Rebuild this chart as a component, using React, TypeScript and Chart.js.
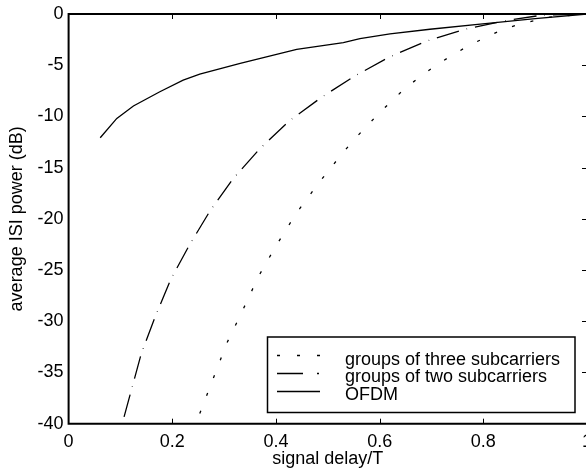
import React, { useEffect, useRef } from "react";
import { Chart, registerables } from "chart.js";

Chart.register(...registerables);

// ---- data ----
const seriesLabels = [
  "groups of three subcarriers",
  "groups of two subcarriers",
  "OFDM",
];

const threeX = [0.253, 0.279, 0.305, 0.336, 0.366, 0.401, 0.44, 0.482, 0.527, 0.551, 0.601, 0.651, 0.709, 0.771, 0.835, 0.869, 0.929, 1.0];
const threeY = [-39.0, -35.58, -32.16, -28.91, -25.65, -22.56, -19.4, -16.53, -13.67, -12.24, -9.57, -7.16, -4.98, -3.1, -1.56, -1.0, -0.3, 0];

const twoX = [0.107, 0.14, 0.167, 0.197, 0.233, 0.273, 0.318, 0.369, 0.426, 0.488, 0.552, 0.62, 0.691, 0.765, 0.839, 0.915, 1.0];
const twoY = [-39.33, -33.2, -29.56, -25.91, -22.56, -19.21, -16.04, -13.15, -10.42, -8.13, -6.05, -4.17, -2.64, -1.49, -0.68, -0.1, 0];

const ofdmX = [0.061, 0.093, 0.125, 0.176, 0.221, 0.253, 0.331, 0.44, 0.53, 0.562, 0.62, 0.697, 0.794, 0.9, 1.0];
const ofdmY = [-12.08, -10.19, -8.98, -7.59, -6.45, -5.86, -4.81, -3.45, -2.8, -2.4, -1.95, -1.49, -0.98, -0.45, 0];

const xMin = 0;
const xMax = 1;
const xStep = 0.2;
const yMin = -40;
const yMax = 0;
const yStep = 5;

const xTitle = "signal delay/T";
const yTitle = "average ISI power (dB)";

const FONT = "'Liberation Sans', Arial, sans-serif";

function zip(xs: number[], ys: number[]) {
  return xs.map((x, i) => ({ x, y: ys[i] }));
}

const framePlugin = {
  id: "matlabFrame",
  afterDraw(chart: any) {
    const { ctx, chartArea } = chart;
    const { left, right, top, bottom } = chartArea;
    const xs = chart.scales.x;
    const ys = chart.scales.y;
    ctx.save();
    ctx.strokeStyle = "#000";
    ctx.lineWidth = 1;
    const tl = 5;
    xs.ticks.forEach((t: any) => {
      if (t.value <= xMin || t.value >= xMax) return;
      const px = Math.round(xs.getPixelForValue(t.value)) + 0.5;
      ctx.beginPath();
      ctx.moveTo(px, bottom);
      ctx.lineTo(px, bottom - tl);
      ctx.moveTo(px, top);
      ctx.lineTo(px, top + tl);
      ctx.stroke();
    });
    ys.ticks.forEach((t: any) => {
      if (t.value <= yMin || t.value >= yMax) return;
      const py = Math.round(ys.getPixelForValue(t.value)) + 0.5;
      ctx.beginPath();
      ctx.moveTo(right, py);
      ctx.lineTo(right - tl, py);
      ctx.stroke();
    });
    ctx.lineWidth = 2;
    ctx.beginPath();
    ctx.moveTo(left, top);
    ctx.lineTo(right, top);
    ctx.lineTo(right, bottom);
    ctx.lineTo(left, bottom);
    ctx.closePath();
    ctx.stroke();

    // legend
    const bx = 267.5;
    const by = 337;
    const bw = 307.5;
    const bh = 75.5;
    ctx.fillStyle = "#fff";
    ctx.fillRect(bx, by, bw, bh);
    ctx.lineWidth = 1.5;
    ctx.strokeRect(bx, by, bw, bh);
    const sampleY = [355.5, 373.5, 391.5];
    const textY = [360, 377.5, 395];
    const legendDash = [[3, 17], [26, 14, 2, 20], []];
    ctx.font = `18px ${FONT}`;
    ctx.textBaseline = "middle";
    ctx.textAlign = "left";
    chart.data.datasets.forEach((ds: any, i: number) => {
      ctx.save();
      ctx.lineWidth = ds.borderWidth;
      ctx.setLineDash(legendDash[i]);
      ctx.beginPath();
      ctx.moveTo(277, sampleY[i]);
      ctx.lineTo(320, sampleY[i]);
      ctx.stroke();
      ctx.restore();
      ctx.fillStyle = "#000";
      ctx.fillText(ds.label, 345, textY[i]);
    });
    ctx.restore();
  },
};

export default function App() {
  const ref = useRef<HTMLCanvasElement | null>(null);
  useEffect(() => {
    if (!ref.current) return;
    Chart.defaults.font.family = FONT;
    const chart = new Chart(ref.current, {
      type: "line",
      data: {
        datasets: [
          {
            label: seriesLabels[0],
            data: zip(threeX, threeY),
            borderColor: "#000",
            borderWidth: 1.3,
            borderDash: [3, 16],
            pointRadius: 0,
            tension: 0,
            fill: false,
          },
          {
            label: seriesLabels[1],
            data: zip(twoX, twoY),
            borderColor: "#000",
            borderWidth: 1.3,
            borderDash: [23, 8, 0.6, 8],
            pointRadius: 0,
            tension: 0,
            fill: false,
          },
          {
            label: seriesLabels[2],
            data: zip(ofdmX, ofdmY),
            borderColor: "#000",
            borderWidth: 1.3,
            pointRadius: 0,
            tension: 0,
            fill: false,
          },
        ],
      },
      options: {
        animation: false,
        responsive: false,
        devicePixelRatio: 1,
        layout: { padding: { left: 0, right: 13, top: 14, bottom: 0 } },
        plugins: {
          legend: { display: false },
          tooltip: { enabled: false },
        },
        scales: {
          x: {
            type: "linear",
            min: xMin,
            max: xMax,
            grid: { display: false, drawTicks: false },
            border: { display: false },
            ticks: {
              stepSize: xStep,
              color: "#000",
              font: { size: 18, family: FONT },
              padding: 8,
              maxRotation: 0,
              callback: (v: any) => String(parseFloat(Number(v).toFixed(2))),
            },
            title: {
              display: true,
              text: xTitle,
              color: "#000",
              font: { size: 18, family: FONT },
              padding: { top: 0, bottom: 2 },
            },
            afterFit: (s: any) => {
              s.height = 48.3;
              s.paddingLeft = 0;
              s.paddingRight = 0;
            },
          },
          y: {
            type: "linear",
            min: yMin,
            max: yMax,
            grid: { display: false, drawTicks: false },
            border: { display: false },
            ticks: {
              stepSize: yStep,
              color: "#000",
              font: { size: 18, family: FONT },
              padding: 5,
            },
            title: {
              display: true,
              text: yTitle,
              color: "#000",
              font: { size: 18, family: FONT },
              padding: { top: 6, bottom: 0 },
            },
            afterFit: (s: any) => {
              s.width = 68.6;
              s.paddingTop = 0;
              s.paddingBottom = 0;
            },
          },
        },
      },
      plugins: [framePlugin],
    });
    return () => chart.destroy();
  }, []);

  return (
    <div
      style={{
        position: "fixed",
        left: 0,
        top: 0,
        width: 586,
        height: 472,
        overflow: "hidden",
        background: "#fff",
      }}
    >
      <canvas ref={ref} width={600} height={472} style={{ display: "block" }} />
    </div>
  );
}
